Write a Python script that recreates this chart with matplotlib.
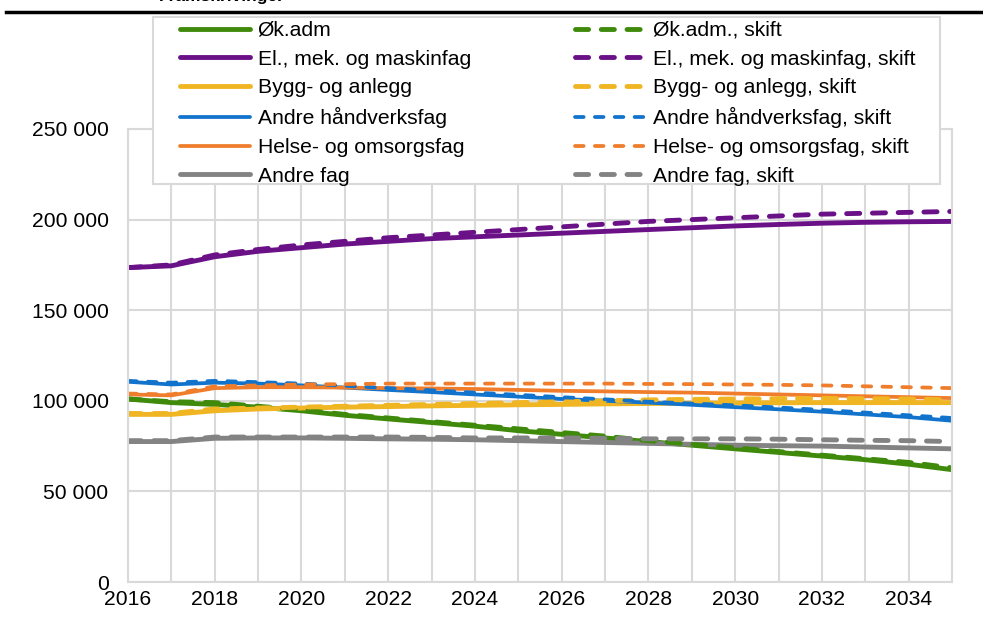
import matplotlib
matplotlib.use("Agg")
import matplotlib.pyplot as plt
from matplotlib.patches import Rectangle
from matplotlib.ticker import FuncFormatter

plt.rcParams['font.family'] = ['Liberation Sans', 'DejaVu Sans']

years = list(range(2016, 2036))

# values in thousands
okadm = [101, 99, 98, 96.5, 94.5, 92, 90, 88, 86, 83.5, 81.5, 79.5, 77.5, 75.5, 73.5, 71.5, 69.5, 67.5, 65, 62]
okadm_s = [101, 99.5, 99, 97, 95, 92.5, 90.5, 88.5, 86.5, 84.5, 82.5, 80.5, 78, 76, 74, 72, 70, 68, 66, 63]
elmek = [173.5, 174.5, 179.5, 182.5, 184.5, 186.5, 188, 189.5, 190.5, 191.5, 192.5, 193.5, 194.5, 195.5, 196.5, 197.3, 198, 198.5, 198.8, 199]
elmek_s = [173.5, 175, 180.5, 183.5, 186, 188, 190, 191.5, 193, 194.5, 196, 197.5, 199, 200, 201, 202, 203, 203.5, 204, 204.5]
bygg = [92.5, 92.5, 94.5, 95.5, 96, 96.5, 96.8, 97.2, 97.5, 97.8, 98, 98.3, 98.5, 98.7, 98.8, 98.9, 99, 99, 99, 99]
bygg_s = [93, 93, 95.5, 96, 96.5, 97, 97.5, 98, 98.5, 99, 99.5, 100, 100.5, 100.8, 101, 101.2, 101.3, 101.2, 101, 100.5]
handverk = [110.5, 109, 110, 109.5, 108.5, 107.3, 106, 104.8, 103.5, 102.3, 101, 100, 99, 97.8, 96.5, 95.3, 94, 92.5, 91, 89]
handverk_s = [111, 110, 111, 110.3, 109.5, 108.3, 107, 105.8, 104.5, 103.3, 102, 100.8, 99.5, 98.5, 97.5, 96.3, 95, 93.5, 92, 90.5]
helse = [103.5, 103, 107, 107.5, 107.5, 107.3, 107, 106.8, 106.5, 106, 105.5, 105.2, 104.8, 104.5, 104, 103.5, 103, 102.5, 102, 101.5]
helse_s = [104, 103.5, 108, 108.5, 109, 109.2, 109.5, 109.5, 109.5, 109.5, 109.5, 109.5, 109.3, 109.2, 109, 108.8, 108.5, 108, 107.5, 107]
andre = [77.5, 77.5, 79.3, 79.5, 79.5, 79.3, 79, 78.8, 78.5, 78, 77.5, 77, 76.5, 76, 75.5, 75.2, 75, 74.5, 74, 73.5]
andre_s = [78, 78, 80, 80, 80, 80, 80, 79.8, 79.5, 79.5, 79.5, 79.3, 79, 79, 79, 78.8, 78.5, 78.2, 78, 77.5]

names = ['Øk.adm', 'El., mek. og maskinfag', 'Bygg- og anlegg',
         'Andre håndverksfag', 'Helse- og omsorgsfag', 'Andre fag']
names_s = ['Øk.adm., skift', 'El., mek. og maskinfag, skift', 'Bygg- og anlegg, skift',
           'Andre håndverksfag, skift', 'Helse- og omsorgsfag, skift', 'Andre fag, skift']
solid = [okadm, elmek, bygg, handverk, helse, andre]
shifted = [okadm_s, elmek_s, bygg_s, handverk_s, helse_s, andre_s]
colors = ['#3F8A0B', '#6A1187', '#F0B523', '#1173CC', '#EF7D2B', '#838383']
thick = [True, True, True, False, False, True]

fs = 15.2

fig = plt.figure(figsize=(9.83, 6.17), dpi=100)
ax = fig.add_axes([128/983, 35/617, 824/983, 453/617])

for vals, name, c, t in zip(solid, names, colors, thick):
    ax.plot(years, [v * 1000 for v in vals], color=c, lw=3.5 if t else 2.7,
            solid_capstyle='round', label=name)
for vals, name, c, t in zip(shifted, names_s, colors, thick):
    if t:
        ax.plot(years, [v * 1000 for v in vals], color=c, lw=3.5,
                dashes=(2.7, 2.6), dash_capstyle='round', label=name)
    else:
        ax.plot(years, [v * 1000 for v in vals], color=c, lw=2.7,
                dashes=(2.3, 3.0), dash_capstyle='round', label=name)

ax.set_xlim(2016, 2035)
ax.set_ylim(0, 250000)
ax.set_xticks(years)
ax.set_xticklabels([str(y) if y % 2 == 0 else '' for y in years])
ax.set_yticks(range(0, 250001, 50000))
ax.yaxis.set_major_formatter(FuncFormatter(lambda v, p: f"{v:,.0f}".replace(",", " ")))
ax.tick_params(length=0, labelsize=fs)
ax.tick_params(axis='y', pad=14)
ax.tick_params(axis='x', pad=6)
ax.grid(True, color='#d9d9d9', lw=1.5)
ax.set_axisbelow(True)
for s in ax.spines.values():
    s.set_color('#d9d9d9')
    s.set_linewidth(1.5)

# legend box drawn separately, white background over the plot
box = Rectangle((153/983, 1 - 184/617), (940 - 153)/983, (184 - 17)/617,
                transform=fig.transFigure, facecolor='white', edgecolor='#d9d9d9',
                lw=1.5, zorder=4)
fig.add_artist(box)
handles, labels = ax.get_legend_handles_labels()
leg = fig.legend(handles, labels, ncol=2, loc='upper left',
                 bbox_to_anchor=(180/983, 1 - 21/617), fontsize=fs, frameon=False,
                 handlelength=3.3, handletextpad=0.38, columnspacing=4.93,
                 labelspacing=0.46, borderpad=0, borderaxespad=0)
leg.set_zorder(5)

# top rule and clipped heading
fig.add_artist(plt.Line2D([6/983, 1], [1 - 12/617, 1 - 12/617], color='black', lw=2.5))
fig.text(222/983, 1 - 1/617, 'Framskrivinger', ha='center', va='baseline',
         fontsize=12.5, fontweight='bold')

fig.savefig('out.png', dpi=100)
